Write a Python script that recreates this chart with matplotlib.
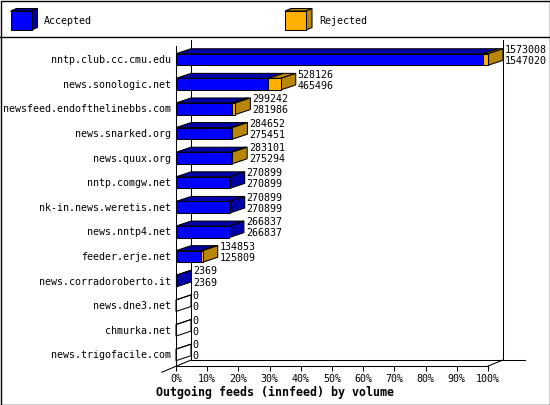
import matplotlib
matplotlib.use('Agg')
import matplotlib.pyplot as plt
from matplotlib.patches import Polygon, Rectangle

# feeds, offered (total) and accepted volume
feeds = ['nntp.club.cc.cmu.edu', 'news.sonologic.net', 'newsfeed.endofthelinebbs.com',
         'news.snarked.org', 'news.quux.org', 'nntp.comgw.net', 'nk-in.news.weretis.net',
         'news.nntp4.net', 'feeder.erje.net', 'news.corradoroberto.it', 'news.dne3.net',
         'chmurka.net', 'news.trigofacile.com']
offered = [1573008, 528126, 299242, 284652, 283101, 270899, 270899, 266837, 134853, 2369, 0, 0, 0]
accepted = [1547020, 465496, 281986, 275451, 275294, 270899, 270899, 266837, 125809, 2369, 0, 0, 0]
ticks = list(range(0, 101, 10))

FONT = 'DejaVu Sans Mono'
BLUE, BLUE_DK = '#0000ff', '#0000a8'
ORANGE, ORANGE_DK = '#ffb000', '#b8860b'
LW = 0.75

fig = plt.figure(figsize=(5.5, 4.05), dpi=100)

# background layer in pixel units: border, legend, title
bg = fig.add_axes([0, 0, 1, 1])
bg.set_xlim(0, 550)
bg.set_ylim(405, 0)
bg.axis('off')
bg.add_patch(Rectangle((0.5, 0.5), 549, 404, fill=False, lw=1.0, ec='black'))
bg.plot([0, 550], [36.5, 36.5], color='black', lw=1.0)


def cube(a, x, y, w, h, dx, dy, front, dark, filled=True):
    fc_d = dark if filled else 'none'
    fc_f = front if filled else 'none'
    a.add_patch(Polygon([(x, y), (x + w, y), (x + w + dx, y + dy), (x + dx, y + dy)],
                        fc=fc_d, ec='black', lw=LW, clip_on=False))
    a.add_patch(Polygon([(x + w, y), (x + w, y + h), (x + w + dx, y + h + dy), (x + w + dx, y + dy)],
                        fc=fc_d, ec='black', lw=LW, clip_on=False))
    a.add_patch(Polygon([(x, y), (x + w, y), (x + w, y + h), (x, y + h)],
                        fc=fc_f, ec='black', lw=LW, clip_on=False))


cube(bg, 10.5, 11, 21, 19, 6, -2.5, BLUE, BLUE_DK)
bg.text(44, 21, 'Accepted', fontsize=7.2, family=FONT, va='center')
cube(bg, 285, 11, 21, 19, 6, -2.5, ORANGE, ORANGE_DK)
bg.text(319, 21, 'Rejected', fontsize=7.2, family=FONT, va='center')
bg.text(275, 392, 'Outgoing feeds (innfeed) by volume', fontsize=8.4, family=FONT,
        weight='bold', va='center', ha='center')

# main plot: x in percent, y in rows (front plane)
ax = fig.add_axes([176 / 550, (405 - 366) / 405, 312 / 550, 320 / 405])
ax.set_xlim(0, 100)
ax.set_ylim(13, 0)
ax.patch.set_alpha(0)
for s in ['top', 'right']:
    ax.spines[s].set_visible(False)
for s in ['left', 'bottom']:
    ax.spines[s].set_linewidth(LW)
ax.set_xticks(ticks)
ax.set_xticklabels([f'{t}%' for t in ticks], family=FONT, fontsize=7.2)
ax.set_yticks([i + 0.53 for i in range(len(feeds))])
ax.set_yticklabels(feeds, family=FONT, fontsize=7.2)
ax.tick_params(axis='x', length=3.8, width=LW, pad=2)
ax.tick_params(axis='y', length=0, pad=3.8)

DX = 15 / 3.12          # depth offset in percent
DY = -6 / 24.6          # depth offset in rows (walls)
DYB = -5 / 24.6         # depth offset for bars
H = 0.47

# back walls and floor
ax.plot([DX, DX], [DY, 13 + DY], color='black', lw=LW, clip_on=False)
ax.plot([100 + DX, 100 + DX], [DY, 13 + DY], color='black', lw=LW, clip_on=False)
ax.plot([DX, 111.9], [13 + DY, 13 + DY], color='black', lw=LW, clip_on=False)
ax.plot([-4.5, DX], [13.25, 13 + DY], color='black', lw=LW, clip_on=False)
ax.plot([100, 100 + DX], [13, 13 + DY], color='black', lw=LW, clip_on=False)

top = max(offered)
for i, (tot, acc) in enumerate(zip(offered, accepted)):
    yc = i + 0.55
    pa = acc / top * 100
    pt = tot / top * 100
    y0 = yc - H / 2
    cube(ax, 0, y0, pa, H, DX, DYB, BLUE, BLUE_DK, filled=tot > 0)
    if tot > acc:
        cube(ax, pa, y0, pt - pa, H, DX, DYB, ORANGE, ORANGE_DK)
    ax.text(pt + DX + 0.6, yc - 0.39, str(tot), fontsize=7.2, family=FONT, va='center')
    ax.text(pt + DX + 0.6, yc + 0.06, str(acc), fontsize=7.2, family=FONT, va='center')

fig.savefig('out.png', dpi=100)
